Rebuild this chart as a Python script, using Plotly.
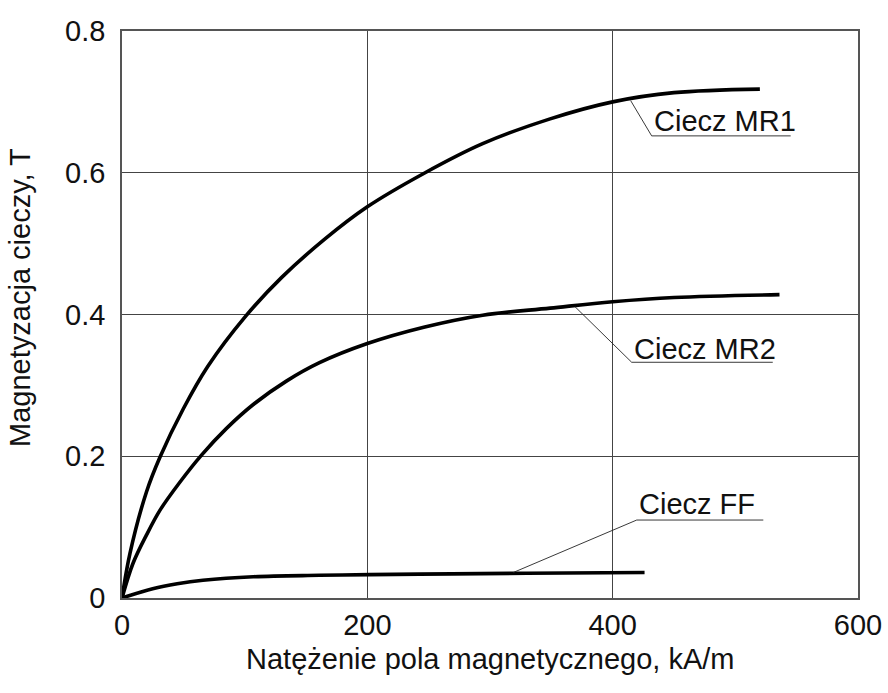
import plotly.graph_objects as go

# ---- data ----
mr1_x = [0, 6.5, 20, 31, 50, 70, 100, 130, 165, 200, 246, 294, 349, 400, 450, 520]
mr1_y = [0, 0.063, 0.150, 0.199, 0.267, 0.327, 0.396, 0.452, 0.506, 0.552, 0.599, 0.641, 0.676, 0.700, 0.713, 0.718]

mr2_x = [0, 9, 20, 31, 47, 65, 85, 107, 134, 161, 200, 246, 294, 349, 400, 450, 536]
mr2_y = [0, 0.049, 0.089, 0.124, 0.163, 0.202, 0.239, 0.273, 0.306, 0.332, 0.359, 0.382, 0.399, 0.409, 0.418, 0.424, 0.428]

ff_x = [0, 25, 45, 66, 107, 161, 202, 269, 330, 426]
ff_y = [0, 0.013, 0.020, 0.025, 0.030, 0.032, 0.033, 0.034, 0.035, 0.036]

x_ticks = [0, 200, 400, 600]
x_tick_labels = ["0", "200", "400", "600"]
y_ticks = [0, 0.2, 0.4, 0.6, 0.8]
y_tick_labels = ["0", "0.2", "0.4", "0.6", "0.8"]

labels = ["Ciecz MR1", "Ciecz MR2", "Ciecz FF"]
# leader: point on curve -> elbow -> end of underline
leader_pts = [
    [(414.7, 0.7017), (431.8, 0.652), (545.1, 0.652)],
    [(369.3, 0.411), (415.5, 0.3326), (530.5, 0.3326)],
    [(319.0, 0.036), (419.6, 0.110), (522.8, 0.110)],
]
label_pos = [(432.0, 0.673), (416.0, 0.352), (420.0, 0.133)]

FONT = "Liberation Sans, Arial, sans-serif"
FS = 29

fig = go.Figure()
for xs, ys in [(mr1_x, mr1_y), (mr2_x, mr2_y), (ff_x, ff_y)]:
    fig.add_trace(go.Scatter(x=xs, y=ys, mode="lines",
                             line=dict(color="black", width=3.6, shape="spline", smoothing=1.0),
                             showlegend=False, hoverinfo="skip"))

shapes = []
for pts in leader_pts:
    path = "M {} {} L {} {} L {} {}".format(pts[0][0], pts[0][1], pts[1][0], pts[1][1], pts[2][0], pts[2][1])
    shapes.append(dict(type="path", path=path, xref="x", yref="y",
                       line=dict(color="#222", width=0.9)))

annotations = []
for txt, (lx, ly) in zip(labels, label_pos):
    annotations.append(dict(x=lx, y=ly, xref="x", yref="y", text=txt, showarrow=False,
                            xanchor="left", yanchor="middle",
                            font=dict(family=FONT, size=FS, color="#111")))

annotations.append(dict(x=0.5, y=-0.108, xref="paper", yref="paper",
                        text="Natężenie pola magnetycznego, kA/m", showarrow=False,
                        xanchor="center", yanchor="middle",
                        font=dict(family=FONT, size=FS, color="#111")))
annotations.append(dict(x=-0.138, y=0.53, xref="paper", yref="paper",
                        text="Magnetyzacja cieczy, T", showarrow=False, textangle=-90,
                        xanchor="center", yanchor="middle",
                        font=dict(family=FONT, size=FS, color="#111")))

fig.update_layout(
    width=888, height=693,
    margin=dict(l=122, r=30, t=31, b=95, autoexpand=False),
    paper_bgcolor="white", plot_bgcolor="white",
    shapes=shapes, annotations=annotations,
    font=dict(family=FONT, size=FS, color="#111"),
)
fig.update_xaxes(range=[0, 600], tickvals=x_ticks, ticktext=x_tick_labels,
                 showgrid=True, gridcolor="#444", gridwidth=1,
                 showline=True, linecolor="#555", linewidth=1.5, mirror=True,
                 zeroline=False, ticks="", ticklabelstandoff=0, automargin=False,
                 tickfont=dict(family=FONT, size=FS, color="#111"))
fig.update_yaxes(range=[0, 0.8], tickvals=y_ticks, ticktext=y_tick_labels,
                 showgrid=True, gridcolor="#444", gridwidth=1,
                 showline=True, linecolor="#555", linewidth=1.5, mirror=True,
                 zeroline=False, ticks="", ticklabelstandoff=9, automargin=False,
                 tickfont=dict(family=FONT, size=FS, color="#111"))

fig.write_html("out.html", config={"displayModeBar": False},
               post_script="document.body.style.margin='0';document.body.style.overflow='hidden';")
